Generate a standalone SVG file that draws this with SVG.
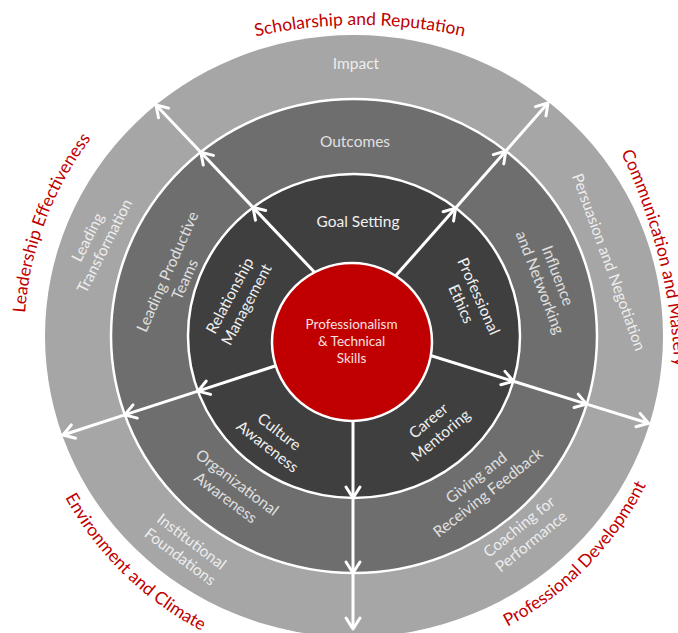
<svg xmlns="http://www.w3.org/2000/svg" width="678" height="633" viewBox="0 0 678 633">
  <style>
    text { font-family: Lato, "Open Sans", sans-serif; }
    .lbl { font-size: 15.5px; text-anchor: middle; }
    .in { fill: #f0f0f0; }
    .mid { fill: #e0e0e0; }
    .out { fill: #ededed; }
    .core { font-size: 13.5px; fill: #f9e0e0; text-anchor: middle; }
    .red { font-size: 17.5px; fill: #c00000; }
    .ring { stroke: #ffffff; stroke-width: 2.5; }
    .arrow { fill: none; stroke: #ffffff; stroke-width: 3; marker-end: url(#chev); }
  </style>
  <defs>
    <marker id="chev" markerUnits="userSpaceOnUse" viewBox="-14 -10 18 20" markerWidth="18" markerHeight="20" refX="0" refY="0" orient="auto">
      <path d="M-11,-7 L0,0 L-11,7" fill="none" stroke="#ffffff" stroke-width="3" stroke-linecap="round" stroke-linejoin="round"/>
    </marker>
    <path id="arcTop" d="M120,89.3 A480,480 0 0,1 600,89.3"/>
    <path id="arcLeft" d="M68.2,503 A330,330 0 0,1 354,8"/>
    <path id="arcRight" d="M574.3,72.5 A557,557 0 0,1 641.4,582.5"/>
    <path id="arcBL" d="M29,395.3 A330,330 0 0,0 296.7,663"/>
    <path id="arcBR" d="M410.8,660 A327,327 0 0,0 676,394.8"/>
  </defs>

  <g id="rings">
    <ellipse cx="354" cy="336" rx="309" ry="301" fill="#a6a6a6"/>
    <ellipse class="ring" cx="354" cy="336" rx="243" ry="237" fill="#6e6e6e"/>
    <ellipse class="ring" cx="354" cy="336" rx="166" ry="162" fill="#3f3f3f"/>
  </g>

  <g id="connectors">
    <path class="arrow" d="M320,278 L253,207.4"/>
    <path class="arrow" d="M253,207.4 L200.8,152.2"/>
    <path class="arrow" d="M200.8,152.2 L156,105"/>
    <path class="arrow" d="M384.8,288 L455.6,208.1"/>
    <path class="arrow" d="M455.6,208.1 L505.8,151"/>
    <path class="arrow" d="M505.8,151 L548,103"/>
    <path class="arrow" d="M417.7,351.5 L513.4,381.3"/>
    <path class="arrow" d="M513.4,381.3 L586.6,404.1"/>
    <path class="arrow" d="M586.6,404.1 L648.5,423.3"/>
    <path class="arrow" d="M287.3,362 L198,391.1"/>
    <path class="arrow" d="M198,391.1 L124.7,414.9"/>
    <path class="arrow" d="M124.7,414.9 L63,435"/>
    <path class="arrow" d="M353,405 L353,498"/>
    <path class="arrow" d="M353,498 L353,573"/>
    <path class="arrow" d="M353,573 L353,629"/>
  </g>

  <g id="core">
    <ellipse cx="352" cy="342" rx="80" ry="79" fill="#c00000" stroke="#ffffff" stroke-width="2.5"/>
    <text class="core"><tspan x="351.5" y="329">Professionalism</tspan><tspan x="351.5" y="346">&amp; Technical</tspan><tspan x="351.5" y="363">Skills</tspan></text>
  </g>

  <g id="goal-setting"><text class="lbl in" x="358" y="227">Goal Setting</text></g>
  <g id="relationship-management"><text class="lbl in" transform="translate(238,300) rotate(-62)"><tspan x="0" y="-4">Relationship</tspan><tspan x="0" y="15">Management</tspan></text></g>
  <g id="professional-ethics"><text class="lbl in" transform="translate(470,300) rotate(66)"><tspan x="0" y="-4">Professional</tspan><tspan x="0" y="15">Ethics</tspan></text></g>
  <g id="culture-awareness"><text class="lbl in" transform="translate(273.5,439) rotate(38)"><tspan x="0" y="-4">Culture</tspan><tspan x="0" y="15">Awareness</tspan></text></g>
  <g id="career-mentoring"><text class="lbl in" transform="translate(434.5,428) rotate(-40)"><tspan x="0" y="-4">Career</tspan><tspan x="0" y="15">Mentoring</tspan></text></g>

  <g id="outcomes"><text class="lbl mid" x="355" y="147">Outcomes</text></g>
  <g id="leading-productive-teams"><text class="lbl mid" transform="translate(176,275.5) rotate(-66)"><tspan x="0" y="-4">Leading Productive</tspan><tspan x="0" y="15">Teams</tspan></text></g>
  <g id="influence-networking"><text class="lbl mid" transform="translate(549,279) rotate(69)"><tspan x="0" y="-4">Influence</tspan><tspan x="0" y="15">and Networking</tspan></text></g>
  <g id="organizational-awareness"><text class="lbl mid" transform="translate(231.5,490) rotate(37)"><tspan x="0" y="-4">Organizational</tspan><tspan x="0" y="15">Awareness</tspan></text></g>
  <g id="giving-feedback"><text class="lbl mid" transform="translate(482,485) rotate(-38)"><tspan x="0" y="-4">Giving and</tspan><tspan x="0" y="15">Receiving Feedback</tspan></text></g>

  <g id="impact"><text class="lbl out" x="356" y="69">Impact</text></g>
  <g id="leading-transformation"><text class="lbl out" transform="translate(96,241.5) rotate(-63)"><tspan x="0" y="-4">Leading</tspan><tspan x="0" y="15">Transformation</tspan></text></g>
  <g id="persuasion-negotiation"><text class="lbl out" transform="translate(609,262) rotate(70)" x="0" y="5.5">Persuasion and Negotiation</text></g>
  <g id="institutional-foundations"><text class="lbl out" transform="translate(186,549) rotate(37)"><tspan x="0" y="-4">Institutional</tspan><tspan x="0" y="15">Foundations</tspan></text></g>
  <g id="coaching-performance"><text class="lbl out" transform="translate(525,534) rotate(-39)"><tspan x="0" y="-4">Coaching for</tspan><tspan x="0" y="15">Performance</tspan></text></g>

  <g id="domain-scholarship"><text class="red"><textPath href="#arcTop" startOffset="50%" text-anchor="middle">Scholarship and Reputation</textPath></text></g>
  <g id="domain-leadership"><text class="red"><textPath href="#arcLeft" startOffset="42.3%" text-anchor="middle">Leadership Effectiveness</textPath></text></g>
  <g id="domain-communication"><text class="red"><textPath href="#arcRight" startOffset="93">Communication and Mastery</textPath></text></g>
  <g id="domain-environment"><text class="red"><textPath href="#arcBL" startOffset="51%" text-anchor="middle">Environment and Climate</textPath></text></g>
  <g id="domain-professional"><text class="red"><textPath href="#arcBR" startOffset="50.9%" text-anchor="middle">Professional Development</textPath></text></g>
</svg>
